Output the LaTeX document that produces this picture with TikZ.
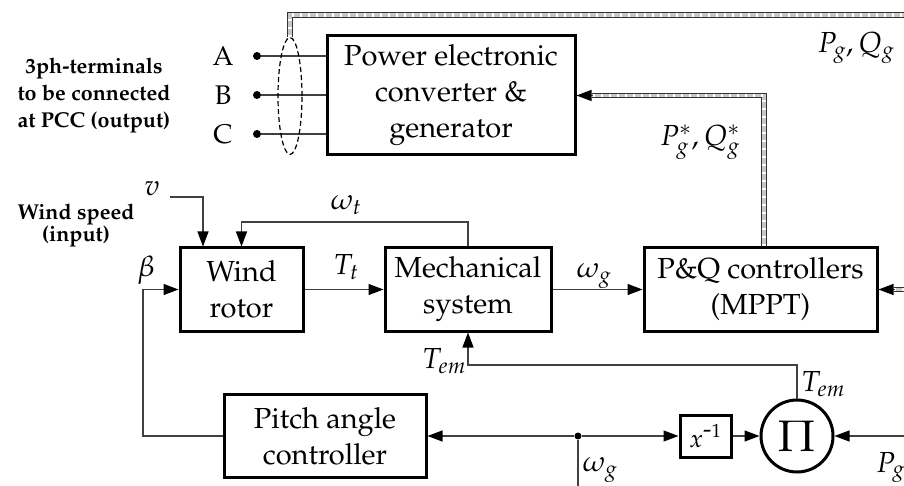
\documentclass[tikz,border=0pt]{standalone}
\usepackage[T1]{fontenc}
\usepackage{mathpazo}
\usetikzlibrary{arrows.meta,shapes.geometric}
\begin{document}
\begin{tikzpicture}[x=1pt,y=-1pt,
  conn/.style={draw=black!75, line width=1.2pt},
  arr/.style={conn, -{Triangle[length=15pt,width=11pt,color=black]}},
  box/.style={draw=black, line width=3pt, align=center, font=\fontsize{29}{36}\selectfont, inner sep=0pt},
  lab/.style={font=\fontsize{29}{31}\selectfont, inner sep=0pt},
  blab/.style={font=\fontsize{21.5}{27}\selectfont\bfseries, align=center, inner sep=0pt},
  bus/.style={line width=5.4pt, draw=black!80, postaction={draw=gray!45, line width=3.4pt}, postaction={draw=white, line width=3.4pt, dash pattern=on 2pt off 6pt}},
  dot/.style={circle, fill=black, inner sep=0pt, minimum size=8pt},
]
\clip (0,0) rectangle (904,486);
% blocks
\node[box, minimum width=248, minimum height=119] (pe) at (451,95.5) {Power electronic\\converter \&\\generator};
\node[box, minimum width=123, minimum height=83] (wr) at (241.5,289.5) {Wind\\rotor};
\node[box, minimum width=166, minimum height=83] (ms) at (468,289.5) {Mechanical\\system};
\node[box, minimum width=233, minimum height=83] (pq) at (760.5,289.5) {P\&Q controllers\\(MPPT)};
\node[box, minimum width=202, minimum height=83] (pa) at (325,436) {Pitch angle\\controller};
\node[box, minimum width=51, minimum height=42, font=\fontsize{25}{26}\selectfont] (xi) at (705.5,436) {$x^{\textnormal{-}1}$};
\node[circle, draw=black, line width=3pt, minimum size=72, inner sep=0pt, font=\fontsize{44}{46}\selectfont] (pi) at (797,436) {$\Pi$};
% terminals
\node[dot] (tA) at (257,56) {};
\node[dot] (tB) at (257,95) {};
\node[dot] (tC) at (257,134) {};
\node[font=\fontsize{27}{29}\selectfont, inner sep=0pt] (lA) at (223,56) {A};
\node[font=\fontsize{27}{29}\selectfont, inner sep=0pt] (lB) at (223,95) {B};
\node[font=\fontsize{27}{29}\selectfont, inner sep=0pt] (lC) at (223,134) {C};
\draw[conn] (tA) -- (tA -| pe.west);
\draw[conn] (tB) -- (tB -| pe.west);
\draw[conn] (tC) -- (tC -| pe.west);
\node[ellipse, draw=black, dashed, dash pattern=on 5pt off 3pt, line width=1.2pt, minimum width=24, minimum height=117, inner sep=0pt] (ell) at (290,96) {};
\node[blab] (t3ph) at (94,95) {3ph-terminals\\to be connected\\at PCC (output)};
% buses
\coordinate (topR) at (904,15);
\draw[bus] (ell.north) |- (topR);
\node[lab] (lpq) at (856,48) {$P_g,Q_g$};
\draw[bus] ([xshift=3.5pt]pq.north) |- ([xshift=15pt]pe.east);
\draw[arr] ([xshift=16pt]pe.east) -- (pe.east);
\node[lab] (lpqs) at (700,142) {$P_g^*,Q_g^*$};
\coordinate (rin) at (904,289.5);
\draw[bus] (rin) -- ([xshift=15pt]pq.east);
\draw[arr] ([xshift=16pt]pq.east) -- (pq.east);
% wind input
\node[blab, font=\fontsize{21.5}{22}\selectfont\bfseries] (lws) at (76,225) {Wind speed\\(input)};
\coordinate (vstart) at (170,197);
\node[lab] (lv) at (152,189) {$v$};
\draw[arr] (vstart) -| ([xshift=-38.5pt]wr.north);
% omega_t feedback
\coordinate (wty) at (0,222);
\draw[arr] (ms.north) -- (ms.north |- wty) -| (wr.north);
\node[lab] (lwt) at (346,205) {$\omega_t$};
% T_t
\draw[arr] (wr.east) -- (ms.west);
\node[lab] (ltt) at (346,267) {$T_t$};
% omega_g
\draw[arr] (ms.east) -- (pq.west);
\node[lab] (lwg) at (594,276) {$\omega_g$};
% beta
\coordinate (bx) at (143,0);
\draw[arr] (pa.west) -- (pa.west -| bx) |- (wr.west);
\node[lab] (lb) at (146,270) {$\beta$};
% T_em
\coordinate (temy) at (0,365);
\draw[arr] (pi.north) -- (pi.north |- temy) -| (ms.south);
\node[lab] (ltem1) at (444,361) {$T_{em}$};
\node[lab] (ltem2) at (823,384) {$T_{em}$};
% bottom
\node[dot, minimum size=7pt] (jn) at (578,436) {};
\coordinate (jbot) at (578,486);
\draw[conn] (jbot) -- (jn);
\draw[arr] (jn) -- (pa.east);
\draw[arr] (jn) -- (xi.west);
\draw[arr] (xi.east) -- (pi.west);
\node[lab] (lwg2) at (600,470) {$\omega_g$};
\coordinate (pin) at (904,436);
\draw[arr] (pin) -- (pi.east);
\node[lab, anchor=north west] (lpg) at (876,452) {$P_g$};
\end{tikzpicture}
\end{document}
